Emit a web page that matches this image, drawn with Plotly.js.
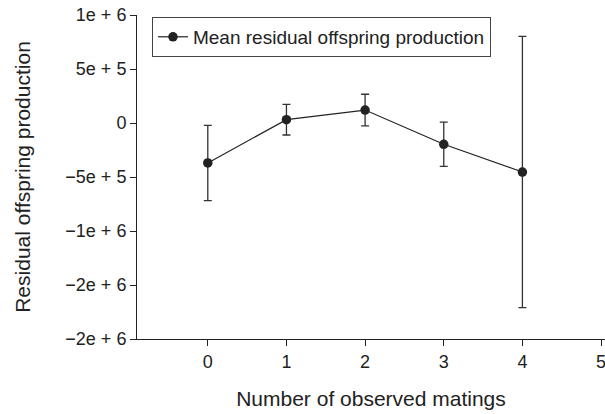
<!DOCTYPE html>
<html>
<head>
<meta charset="utf-8">
<script src="https://cdn.plot.ly/plotly-3.0.1.min.js"></script>
<style>html,body{margin:0;padding:0;background:#fff;}#chart{width:605px;height:414px;}</style>
</head>
<body>
<div id="chart"></div>
<script>
var matings = [0, 1, 2, 3, 4];
var meanResidual = [-370000, 31000, 120000, -197000, -454000];
var errorHalf = [348000, 142000, 146000, 205000, 1256000];
var yTickVals = [1000000, 500000, 0, -500000, -1000000, -1500000, -2000000];
var yTickText = ["1e + 6", "5e + 5", "0", "\u22125e + 5", "\u22121e + 6", "\u22122e + 6", "\u22122e + 6"];
var xTickVals = [0, 1, 2, 3, 4, 5];

var ink = '#222222';
var trace = {
  x: matings,
  y: meanResidual,
  type: 'scatter',
  mode: 'lines+markers',
  name: 'Mean residual offspring production',
  line: {color: ink, width: 1.2},
  marker: {color: ink, size: 9.5},
  error_y: {type: 'data', array: errorHalf, visible: true, color: '#333333', thickness: 1.3, width: 4}
};
var layout = {
  width: 605, height: 414,
  margin: {l: 137, r: 0, t: 15, b: 75},
  paper_bgcolor: '#ffffff', plot_bgcolor: '#ffffff',
  font: {family: 'Liberation Sans, Arial, sans-serif', color: ink, size: 18},
  showlegend: true,
  legend: {x: 0.032, y: 0.994, xanchor: 'left', yanchor: 'top', bordercolor: '#444444', borderwidth: 1, bgcolor: '#ffffff', font: {size: 19}},
  xaxis: {
    range: [-0.9, 5.05], tickvals: xTickVals, ticks: 'outside', ticklen: 6, tickcolor: ink,
    ticklabeloverflow: 'allow',
    showline: true, linecolor: ink, linewidth: 1, showgrid: false, zeroline: false,
    title: {text: 'Number of observed matings', font: {size: 21}, standoff: 20}
  },
  yaxis: {
    range: [-2000000, 1000000], tickvals: yTickVals, ticktext: yTickText, ticks: 'outside', ticklen: 6, tickcolor: ink,
    showline: true, linecolor: ink, linewidth: 1, showgrid: false, zeroline: false,
    title: {text: 'Residual offspring production', font: {size: 21}, standoff: 28}
  }
};
Plotly.newPlot('chart', [trace], layout, {displayModeBar: false, staticPlot: true});
</script>
</body>
</html>
